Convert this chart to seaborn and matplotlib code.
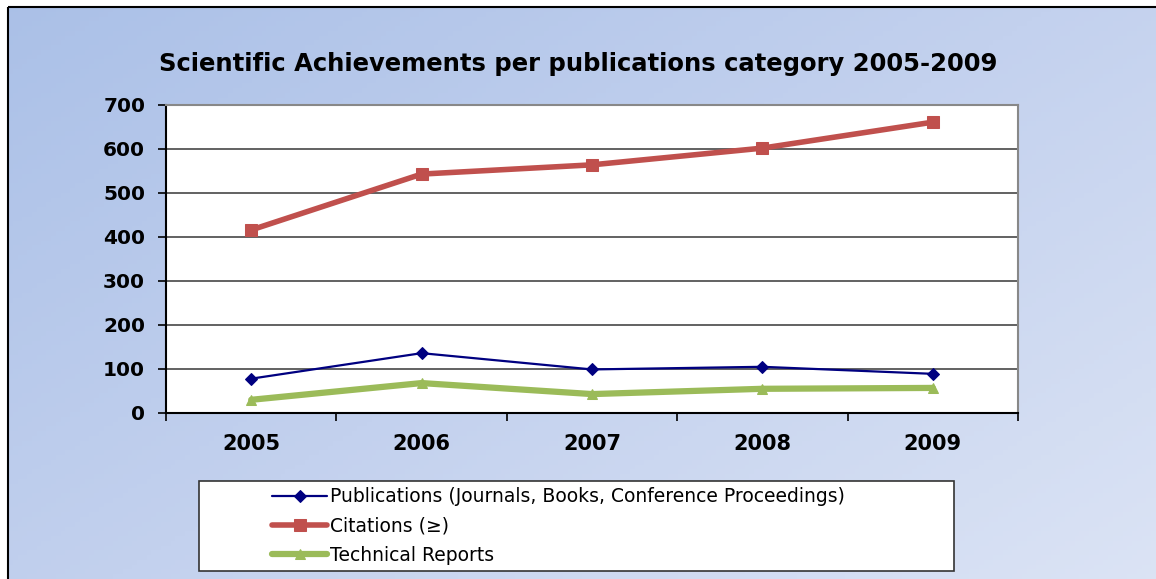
import numpy as np
import pandas as pd
import matplotlib
matplotlib.use("Agg")
import matplotlib.pyplot as plt
import seaborn as sns
from matplotlib.patches import Rectangle
from matplotlib.colors import LinearSegmentedColormap

years = ["2005", "2006", "2007", "2008", "2009"]
publications = [78, 136, 99, 105, 89]
citations = [416, 543, 564, 602, 661]
technical = [30, 68, 43, 55, 57]
series_names = ["Publications (Journals, Books, Conference Proceedings)",
                "Citations (\u2265)", "Technical Reports"]
title = "Scientific Achievements per publications category 2005-2009"

sns.set_theme(style="white")
plt.rcParams['font.family'] = ['DejaVu Sans']
plt.rcParams['text.color'] = 'black'
plt.rcParams['xtick.color'] = 'black'
plt.rcParams['ytick.color'] = 'black'

W, H = 1156, 579
fig = plt.figure(figsize=(W / 100, H / 100), dpi=100)
fig.patch.set_facecolor("white")
fig.patch.set_edgecolor("white")
fig.patch.set_linewidth(0)

# gradient background drawn as a full-figure axes; white margins and border lines in figure fraction
bx0, by1 = 8 / W, 1 - 7 / H
bg = fig.add_axes([0, 0, 1, 1])
bg.set_axis_off()
bg.set_xlim(0, 1); bg.set_ylim(0, 1)
yy, xx = np.mgrid[0:1:120j, 0:1:240j]
t = 0.55 * xx + 0.45 * yy
cmap = LinearSegmentedColormap.from_list("g", ["#a6bde6", "#c3d1ee", "#e0e7f6"])
bg.imshow(t, cmap=cmap, aspect="auto", extent=[bx0, 1.0, 0.0, by1], origin="upper",
          vmin=-0.1, vmax=1.1, interpolation="nearest")
bg.plot([bx0, 1.0], [by1, by1], color="black", lw=1.5, solid_capstyle="butt")
bg.plot([bx0, bx0], [0.0, by1], color="black", lw=1.5, solid_capstyle="butt")

# main axes
L, R, T, B = 166, 1018, 105, 413
ax = fig.add_axes([L / W, 1 - B / H, (R - L) / W, (B - T) / H])
ax.set_facecolor("white")

df = pd.DataFrame({"x": np.arange(len(years)),
                   "pub": publications, "cit": citations, "tech": technical})

sns.lineplot(data=df, x="x", y="pub", ax=ax, color="#000080", lw=1.6,
             marker="D", markersize=8, markeredgecolor="#000080", label=series_names[0], zorder=5)
sns.lineplot(data=df, x="x", y="cit", ax=ax, color="#c0504d", lw=4,
             marker="s", markersize=14, markeredgecolor="#c0504d", label=series_names[1], zorder=5)
sns.lineplot(data=df, x="x", y="tech", ax=ax, color="#9bbb59", lw=4.5,
             marker="^", markersize=14, markeredgecolor="#9bbb59", label=series_names[2], zorder=5)

ax.set_xlim(-0.5, len(years) - 0.5)
ax.set_ylim(0, 700)
ax.set_yticks(range(0, 701, 100))
ax.yaxis.grid(True, color="#555555", lw=1.3)
ax.set_axisbelow(True)
ax.set_xticks(np.arange(-0.5, len(years), 1.0))
ax.set_xticklabels([])
ax.set_xticks(np.arange(len(years)), minor=True)
ax.set_xticklabels(years, minor=True)
ax.tick_params(axis="x", which="major", length=6, width=1.2, color="black", direction="out", bottom=True)
ax.tick_params(axis="x", which="minor", length=0, pad=15, labelsize=15, labelcolor="black")
ax.tick_params(axis="y", length=6, width=1.2, color="black", direction="out", left=True, pad=9,
               labelsize=14.5, labelcolor="black")
for lab in ax.get_xticklabels(minor=True) + ax.get_yticklabels():
    lab.set_fontweight("bold")
ax.set_xlabel(""); ax.set_ylabel("")
for s in ["left", "bottom"]:
    ax.spines[s].set_color("black"); ax.spines[s].set_linewidth(1.5)
for s in ["top", "right"]:
    ax.spines[s].set_color("#888888"); ax.spines[s].set_linewidth(1.5)

handles, labels = ax.get_legend_handles_labels()
ax.get_legend().remove()
for h, ms in zip(handles, [6, 8, 7]):
    h.set_markersize(ms)

fig.text(0.5, 1 - 64 / H, title, ha="center", va="center", fontsize=17.5, fontweight="bold", color="black")

# legend box
bg.add_patch(Rectangle((199 / W, 1 - 571 / H), (954 - 199) / W, 90 / H,
                       facecolor="white", edgecolor="#333333", lw=1.2, zorder=3))
leg = fig.legend(handles, labels, loc="upper left", bbox_to_anchor=(263 / W, 1 - 478 / H),
                 frameon=False, fontsize=13.5, handlelength=2.9, handletextpad=0.2,
                 labelspacing=0.55, borderpad=0, labelcolor="black")
leg.set_zorder(10)

fig.savefig("out.png", dpi=100)
